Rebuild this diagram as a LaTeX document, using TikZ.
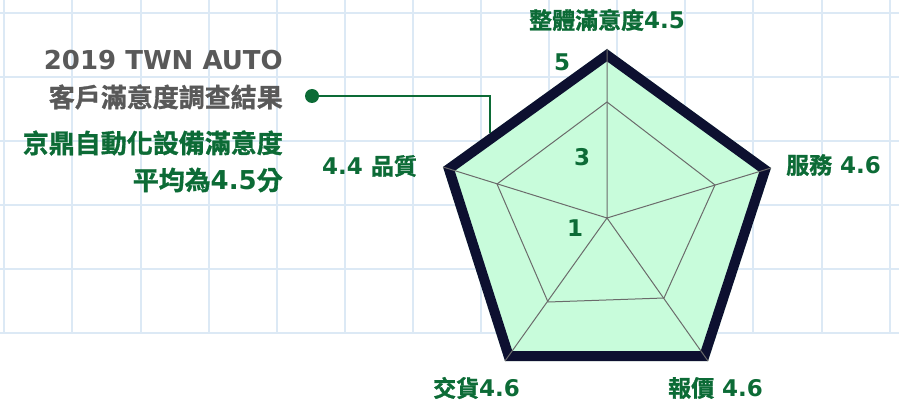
\documentclass[tikz,border=0pt]{standalone}
\usepackage{fontspec}
\setmainfont{DejaVu Sans}
\newfontfamily\cjk{Noto Sans CJK TC}[BoldFont={Noto Sans CJK TC Bold}, BoldFeatures={FakeBold=1.2}]
\definecolor{gridc}{HTML}{DCE9F5}
\definecolor{mint}{HTML}{C8FCDB}
\definecolor{navy}{HTML}{0D1030}
\definecolor{tgreen}{HTML}{0C6B36}
\definecolor{tgray}{HTML}{595959}
\definecolor{spokec}{HTML}{6B6B6B}
\tikzset{
  gridline/.style={gridc, line width=2},
  spoke/.style={spokec, line width=1},
  lbl/.style={text=tgreen, font=\fontsize{23}{27}\selectfont\bfseries, inner sep=0},
  big/.style={font=\fontsize{26}{30}\selectfont\bfseries, inner sep=0, anchor=east},
}
\begin{document}
\begin{tikzpicture}[x=1pt,y=-1pt]
\useasboundingbox (0,0) rectangle (899,403);
% grid
\foreach \i in {0,...,13} \draw[gridline] ({4.3+68.1*\i},0) -- ({4.3+68.1*\i},333.3);
\foreach \j in {0,...,5} \draw[gridline] (0,{13.3+64*\j}) -- (899,{13.3+64*\j});
% radar
\coordinate (C) at (607,218);
\coordinate (T) at (607,49);
\coordinate (R) at (771,168);
\coordinate (BR) at (708,361);
\coordinate (BL) at (505,361);
\coordinate (L) at (443,167);
\coordinate (iT) at (607,102);
\coordinate (iR) at (715,185);
\coordinate (iBR) at (664,298);
\coordinate (iBL) at (548,302);
\coordinate (iL) at (497,184);
\fill[mint] (T)--(R)--(BR)--(BL)--(L)--cycle;
\begin{scope}
\clip (T)--(R)--(BR)--(BL)--(L)--cycle;
\draw[navy, line width=20, line join=miter] (T)--(R)--(BR)--(BL)--(L)--cycle;
\end{scope}
\draw[spoke] (C)--(T) (C)--(R) (C)--(BR) (C)--(BL) (C)--(L);
\draw[spoke] (iT)--(iR)--(iBR)--(iBL)--(iL)--cycle;
% axis values
\node[lbl] (v5) at (562,62) {5};
\node[lbl] (v3) at (582,157) {3};
\node[lbl] (v1) at (575,228) {1};
% labels
\node[lbl] (ltop) at (607,20) {{\cjk 整體滿意度}4.5};
\node[lbl, anchor=west] (lright) at (786,165) {{\cjk 服務} 4.6};
\node[lbl, anchor=west] (lbr) at (668,388) {{\cjk 報價} 4.6};
\node[lbl, anchor=west] (lbl) at (433,388) {{\cjk 交貨}4.6};
\node[lbl, anchor=west] (lleft) at (322,166) {4.4 {\cjk 品質}};
% left text
\node[big, text=tgray] (t1) at (283,60) {2019 TWN AUTO};
\node[big, text=tgray] (t2) at (283,97) {\cjk 客戶滿意度調查結果};
\node[big, text=tgreen] (t3) at (283,143) {\cjk 京鼎自動化設備滿意度};
\node[big, text=tgreen] (t4) at (283,180) {{\cjk 平均為}4.5{\cjk 分}};
% connector
\node[circle, fill=tgreen, inner sep=0, minimum size=14] (dot) at (312,96) {};
\coordinate (tip) at (490,133);
\draw[tgreen, line width=2] (dot.center) -| (tip);
\end{tikzpicture}
\end{document}
